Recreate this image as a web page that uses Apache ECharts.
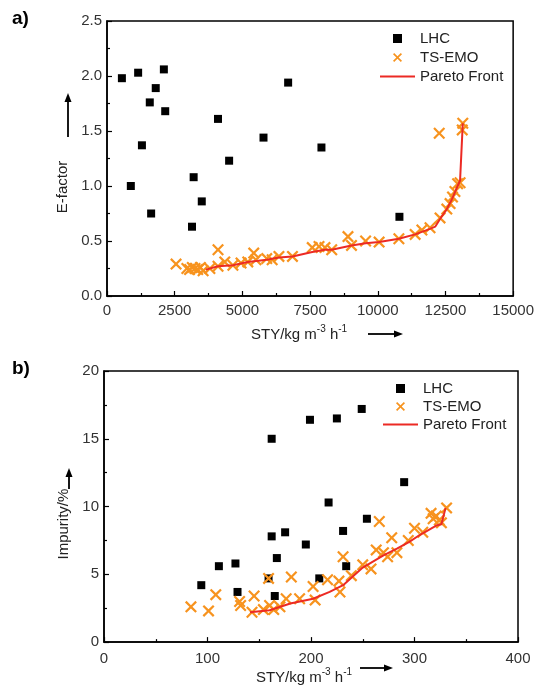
<!DOCTYPE html>
<html>
<head>
<meta charset="utf-8">
<script src="https://cdn.jsdelivr.net/npm/echarts@6/dist/echarts.min.js"></script>
<style>
html,body{margin:0;padding:0;background:#fff;}
#chart{width:537px;height:686px;}
</style>
</head>
<body>
<div id="chart"></div>
<script>
// ---- Panel a) E-factor vs STY ----
const lhcA = [[550,1.98],[1150,2.03],[2100,2.06],[1800,1.89],[1580,1.76],[2150,1.68],[1290,1.37],[880,1.00],[1630,0.75],[4100,1.61],[5780,1.44],[4510,1.23],[3200,1.08],[3500,0.86],[3140,0.63],[6690,1.94],[7920,1.35],[10800,0.72]];
const tsA = [[2550,0.29],[2950,0.25],[3050,0.24],[3150,0.26],[3250,0.25],[3350,0.24],[3450,0.26],[3550,0.23],[3800,0.25],[4100,0.42],[4100,0.27],[4350,0.31],[4650,0.28],[4950,0.30],[5200,0.31],[5420,0.39],[5500,0.33],[5900,0.34],[6100,0.33],[6350,0.36],[6850,0.36],[7580,0.44],[7830,0.45],[8050,0.44],[8300,0.42],[8900,0.54],[9030,0.46],[9550,0.50],[10050,0.49],[10780,0.52],[11380,0.56],[11630,0.60],[11930,0.62],[12270,1.48],[12300,0.71],[12550,0.79],[12670,0.84],[12760,0.90],[12850,0.95],[12950,1.02],[13040,1.03],[13120,1.51],[13140,1.57]];
const paretoA = [[3650,0.24],[4100,0.27],[4650,0.28],[5200,0.31],[5900,0.33],[6350,0.35],[6850,0.36],[7580,0.40],[8050,0.42],[8300,0.42],[9030,0.46],[9550,0.48],[10050,0.49],[10780,0.52],[11380,0.56],[11930,0.61],[12120,0.63],[12300,0.70],[12550,0.79],[12740,0.88],[12950,1.00],[13040,1.05],[13140,1.57]];
const xTicksA = {min:0, max:15000, interval:2500};
const yTicksA = {min:0, max:2.5, interval:0.5};

// ---- Panel b) Impurity vs STY ----
const lhcB = [[94,4.2],[111,5.6],[127,5.8],[129,3.7],[162,15.0],[162,7.8],[175,8.1],[167,6.2],[165,3.4],[159,4.7],[195,7.2],[199,16.4],[208,4.7],[217,10.3],[225,16.5],[231,8.2],[234,5.6],[249,17.2],[254,9.1],[290,11.8]];
const tsB = [[84,2.6],[101,2.3],[108,3.5],[131,3.0],[132,2.7],[143,2.2],[145,3.4],[154,2.4],[159,4.7],[160,2.7],[164,2.4],[170,2.6],[176,3.2],[181,4.8],[189,3.2],[202,4.1],[204,3.1],[216,4.6],[227,4.5],[228,3.7],[231,6.3],[239,4.9],[250,5.7],[258,5.4],[263,6.8],[266,8.9],[270,6.6],[274,6.3],[278,7.7],[283,6.6],[294,7.5],[300,8.4],[308,8.1],[316,9.5],[318,9.1],[321,9.3],[324,9.0],[326,8.8],[331,9.9]];
const paretoB = [[141,2.2],[160,2.35],[180,2.85],[202,3.2],[218,3.7],[231,4.2],[250,5.5],[270,6.4],[283,6.9],[295,7.4],[305,7.9],[321,8.6],[326,8.7],[330,9.9]];
const xTicksB = {min:0, max:400, interval:100};
const yTicksB = {min:0, max:20, interval:5};

const seriesNames = ['LHC','TS-EMO','Pareto Front'];
const panelLabels = ['a)','b)'];
const yNames = ['E-factor','Impurity/%'];

const FONT = '"Liberation Sans", Arial, sans-serif';
const ORANGE = '#f7931e';
const RED = '#ec2a24';
const CROSS = 'path://M0,1.3 L1.3,0 L5,3.7 L8.7,0 L10,1.3 L6.3,5 L10,8.7 L8.7,10 L5,6.3 L1.3,10 L0,8.7 L3.7,5 Z';
const SQUARE = 'path://M0,0 L10,0 L10,10 L0,10 Z';
const BAR = 'path://M0,0 L35,0 L35,2 L0,2 Z';

const chart = echarts.init(document.getElementById('chart'));

function xAxis(idx, t, gap, padR, labelMargin) {
  return {
    type:'value', gridIndex:idx, min:t.min, max:t.max, interval:t.interval,
    name:'{n|STY/kg m}{s|-3}{n| h}{s|-1}', nameLocation:'middle', nameGap:gap,
    nameTextStyle:{padding:[0,padR,0,0], rich:{
      n:{fontFamily:FONT, fontSize:15, color:'#222', lineHeight:18, verticalAlign:'bottom'},
      s:{fontFamily:FONT, fontSize:10, color:'#222', lineHeight:18, verticalAlign:'top', padding:[0,0,6,0]}
    }},
    axisLine:{show:true, onZero:false, lineStyle:{color:'#000', width:1.5}},
    axisTick:{show:true, inside:true, length:5, lineStyle:{color:'#000', width:1.2}},
    minorTick:{show:true, splitNumber:2, length:3, lineStyle:{color:'#000', width:1.2}},
    splitLine:{show:false}, minorSplitLine:{show:false},
    axisLabel:{fontFamily:FONT, fontSize:15, color:'#333', margin:labelMargin, showMaxLabel:true,
      formatter: v => String(v)}
  };
}
function yAxis(idx, t, name, gap, padR, decimals) {
  return {
    type:'value', gridIndex:idx, min:t.min, max:t.max, interval:t.interval,
    name:name, nameLocation:'middle', nameGap:gap,
    nameTextStyle:{fontFamily:FONT, fontSize:15, color:'#222', padding:[0,padR,0,0]},
    axisLine:{show:true, onZero:false, lineStyle:{color:'#000', width:1.5}},
    axisTick:{show:true, inside:true, length:5, lineStyle:{color:'#000', width:1.2}},
    minorTick:{show:true, splitNumber:2, length:3, lineStyle:{color:'#000', width:1.2}},
    splitLine:{show:false}, minorSplitLine:{show:false},
    axisLabel:{fontFamily:FONT, fontSize:15, color:'#333', margin:5,
      formatter: v => v.toFixed(decimals)}
  };
}
function legend(left, top, gap) {
  return {
    orient:'vertical', left:left, top:top, padding:0, itemGap:gap,
    itemWidth:35, itemHeight:9, selectedMode:false, symbolKeepAspect:true,
    textStyle:{fontFamily:FONT, fontSize:15, color:'#222'},
    data:[
      {name:seriesNames[0], icon:SQUARE},
      {name:seriesNames[1], icon:CROSS},
      {name:seriesNames[2], icon:BAR}
    ]
  };
}
function series(i, lhc, ts, pf) {
  return [
    {name:seriesNames[0], type:'scatter', xAxisIndex:i, yAxisIndex:i, data:lhc,
     symbol:'rect', symbolSize:8, itemStyle:{color:'#000', opacity:1}, z:3},
    {name:seriesNames[1], type:'scatter', xAxisIndex:i, yAxisIndex:i, data:ts,
     symbol:CROSS, symbolSize:12, itemStyle:{color:ORANGE, opacity:1}, z:4},
    {name:seriesNames[2], type:'line', xAxisIndex:i, yAxisIndex:i, data:pf,
     symbol:'none', showSymbol:false, lineStyle:{color:RED, width:2}, itemStyle:{color:RED}, z:5}
  ];
}
function arrow(x1,y1,x2,y2){
  const dx=x2-x1, dy=y2-y1, L=Math.hypot(dx,dy), ux=dx/L, uy=dy/L;
  const hl=9, hw=3.5;
  const bx=x2-ux*hl, by=y2-uy*hl;
  return {type:'group', silent:true, children:[
    {type:'line', shape:{x1:x1,y1:y1,x2:bx,y2:by}, style:{stroke:'#000', lineWidth:1.8}},
    {type:'polygon', shape:{points:[[x2,y2],[bx-uy*hw,by+ux*hw],[bx+uy*hw,by-ux*hw]]}, style:{fill:'#000'}}
  ]};
}

chart.setOption({
  animation:false,
  backgroundColor:'#fff',
  grid:[
    {left:107, right:22, top:21, height:275, show:true, borderColor:'#000', borderWidth:1.5, backgroundColor:'transparent'},
    {left:104, right:19, top:371, height:273, show:true, borderColor:'#000', borderWidth:1.5, backgroundColor:'transparent'}
  ],
  xAxis:[ xAxis(0, xTicksA, 28, 22, 7), xAxis(1, xTicksB, 18, 14, 9) ],
  yAxis:[ yAxis(0, yTicksA, yNames[0], 32, 57, 1), yAxis(1, yTicksB, yNames[1], 27, 35, 0) ],
  legend:[ legend(380, 31, 4), legend(383, 381, 3) ],
  series:[ ...series(0, lhcA, tsA, paretoA), ...series(1, lhcB, tsB, paretoB) ],
  graphic:[
    {type:'text', left:12, top:9, style:{text:panelLabels[0], font:'bold 19px '+FONT, fill:'#000'}},
    {type:'text', left:12, top:359, style:{text:panelLabels[1], font:'bold 19px '+FONT, fill:'#000'}},
    arrow(68,137,68,93),
    arrow(69,489,69,468),
    arrow(368,334,403,334),
    arrow(360,668,393,668)
  ]
});
</script>
</body>
</html>
